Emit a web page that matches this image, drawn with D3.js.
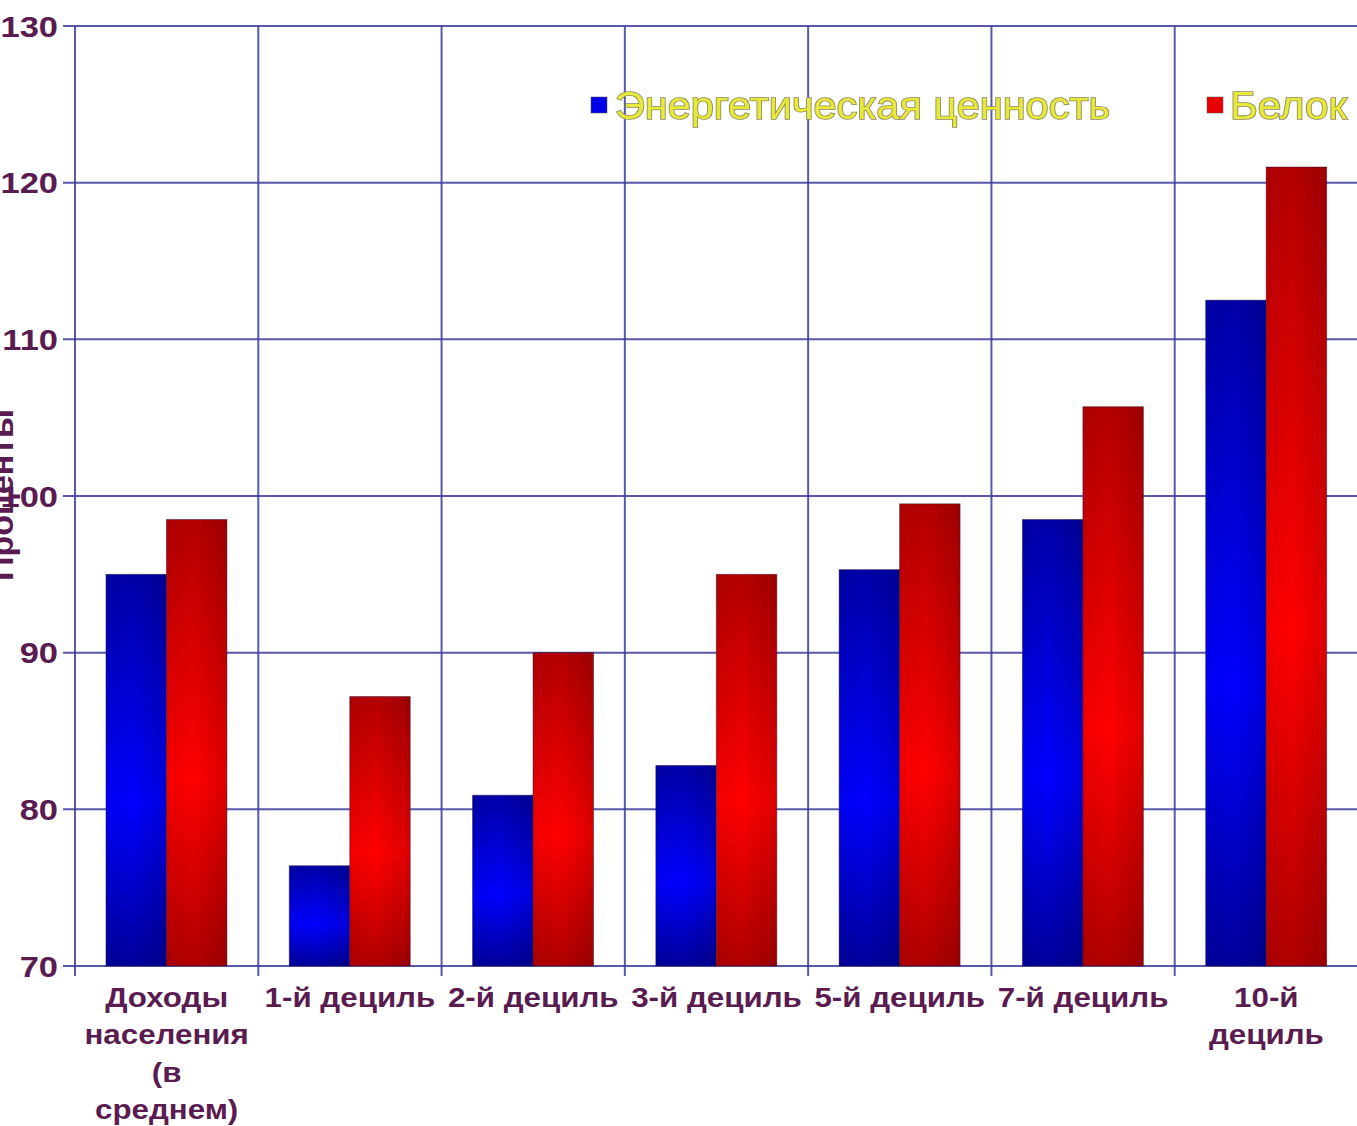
<!DOCTYPE html>
<html><head><meta charset="utf-8">
<script src="https://cdn.jsdelivr.net/npm/d3@7"></script>
<style>html,body{margin:0;padding:0;background:#fff;overflow:hidden}</style>
</head><body>
<svg id="chart" width="1357" height="1126"></svg>
<script>
const categories = ["Доходы населения (в среднем)","1-й дециль","2-й дециль","3-й дециль","5-й дециль","7-й дециль","10-й дециль"];
const categoryLines = [["Доходы","населения","(в","среднем)"],["1-й дециль"],["2-й дециль"],["3-й дециль"],["5-й дециль"],["7-й дециль"],["10-й","дециль"]];
const seriesNames = ["Энергетическая ценность","Белок"];
const energy = [95, 76.4, 80.9, 82.8, 95.3, 98.5, 112.5];
const protein = [98.5, 87.2, 90, 95, 99.5, 105.7, 121];
const yTicks = [70, 80, 90, 100, 110, 120, 130];
const yTitle = "Проценты";

const svg = d3.select("#chart");
const L = 75, T = 26, B = 966, R = 1358;
const txtColor = "#5a1c50", gridColor = "#3c3c9c";

const x = d3.scaleBand().domain(categories).range([L, R]).paddingInner(0).paddingOuter(0);
const bw = x.bandwidth();
const x1 = d3.scaleBand().domain(seriesNames).range([bw*0.169, bw*0.829]).padding(0);
const y = d3.scaleLinear().domain([70,130]).range([B, T]);

const defs = svg.append("defs");
function vgrad(id, dark, bright, dark2){
  const g = defs.append("linearGradient").attr("id", id).attr("x1",0).attr("y1",0).attr("x2",0).attr("y2",1);
  g.append("stop").attr("offset","0%").attr("stop-color",dark);
  g.append("stop").attr("offset","58%").attr("stop-color",bright);
  g.append("stop").attr("offset","100%").attr("stop-color",dark2);
}
vgrad("gBlue","#0000a8","#0000ff","#00009c");
vgrad("gRed","#b40000","#ff0000","#b00000");
const hg = defs.append("linearGradient").attr("id","gShade").attr("x1",0).attr("y1",0).attr("x2",1).attr("y2",0);
hg.append("stop").attr("offset","0%").attr("stop-color","#000").attr("stop-opacity",0.05);
hg.append("stop").attr("offset","45%").attr("stop-color","#000").attr("stop-opacity",0);
hg.append("stop").attr("offset","100%").attr("stop-color","#000").attr("stop-opacity",0.14);
const blur = defs.append("filter").attr("id","soft").attr("x","-5%").attr("y","-20%").attr("width","110%").attr("height","140%");
blur.append("feGaussianBlur").attr("stdDeviation",0.6);

// grid
const grid = svg.append("g");
grid.selectAll("line.h").data(yTicks).join("line")
  .attr("x1", L-12).attr("x2", 1357).attr("y1", d=>y(d)).attr("y2", d=>y(d))
  .attr("stroke", gridColor).attr("stroke-width", 2).attr("stroke-opacity",0.85);
const vx = categories.map(c=>x(c)).concat([R]);
grid.selectAll("line.v").data(vx).join("line")
  .attr("x1", d=>d).attr("x2", d=>d).attr("y1", T).attr("y2", B+10)
  .attr("stroke", gridColor).attr("stroke-width", 2).attr("stroke-opacity",0.85);

// bars
const data = categories.map((c,i)=>({c, vals:[{s:seriesNames[0],v:energy[i]},{s:seriesNames[1],v:protein[i]}]}));
const groups = svg.append("g").selectAll("g").data(data).join("g").attr("transform", d=>`translate(${x(d.c)},0)`);
const bars = groups.selectAll("g").data(d=>d.vals).join("g");
bars.append("rect")
  .attr("x", d=>x1(d.s)).attr("width", x1.bandwidth())
  .attr("y", d=>y(d.v)).attr("height", d=>y(70)-y(d.v))
  .attr("fill", d=>d.s===seriesNames[0] ? "url(#gBlue)" : "url(#gRed)")
  .attr("stroke","#2a1030").attr("stroke-opacity",0.45).attr("stroke-width",1);
bars.append("rect")
  .attr("x", d=>x1(d.s)).attr("width", x1.bandwidth())
  .attr("y", d=>y(d.v)).attr("height", d=>y(70)-y(d.v))
  .attr("fill","url(#gShade)");

// y tick labels
svg.append("g").selectAll("text").data(yTicks).join("text")
  .attr("transform", d=>`translate(58,${y(d)}) scale(1.15,1)`)
  .attr("text-anchor","end").attr("dy","0.36em")
  .attr("font-family","Liberation Sans, Arial, sans-serif").attr("font-weight","bold")
  .attr("font-size",30).attr("fill",txtColor).text(d=>d);

// x labels
const xl = svg.append("g").selectAll("text").data(categories).join("text")
  .attr("transform", (d)=>`translate(${x(d)+bw/2},1007) scale(1.16,1)`)
  .attr("text-anchor","middle")
  .attr("font-family","Liberation Sans, Arial, sans-serif").attr("font-weight","bold")
  .attr("font-size",27).attr("fill",txtColor);
xl.selectAll("tspan").data((d,i)=>categoryLines[i]).join("tspan")
  .attr("x",0).attr("y",(d,i)=>i*37.5).text(d=>d);

// y title
svg.append("text")
  .attr("transform","translate(13,495) rotate(-90)")
  .attr("text-anchor","middle")
  .attr("font-family","Liberation Sans, Arial, sans-serif").attr("font-weight","bold")
  .attr("font-size",34).attr("fill",txtColor).text(yTitle);

// legend
const legend = [
  {name: seriesNames[0], color:"#0000e8", sx:591, tx:615, len:495},
  {name: seriesNames[1], color:"#e80000", sx:1207, tx:1230, len:117}
];
const lg = svg.append("g");
lg.selectAll("rect").data(legend).join("rect")
  .attr("x", d=>d.sx).attr("y",97).attr("width",16).attr("height",16)
  .attr("fill", d=>d.color).attr("stroke","#555").attr("stroke-opacity",0.5);
lg.selectAll("text").data(legend).join("text")
  .attr("x", d=>d.tx).attr("y",119)
  .attr("textLength", d=>d.len).attr("lengthAdjust","spacingAndGlyphs")
  .attr("font-family","Liberation Sans Narrow, Liberation Sans, Arial, sans-serif")
  .attr("font-size",38).attr("fill","#e8e838")
  .attr("stroke","#8a8a60").attr("stroke-width",1.6).attr("paint-order","stroke")
  .attr("filter","url(#soft)")
  .text(d=>d.name);
</script>
</body></html>
